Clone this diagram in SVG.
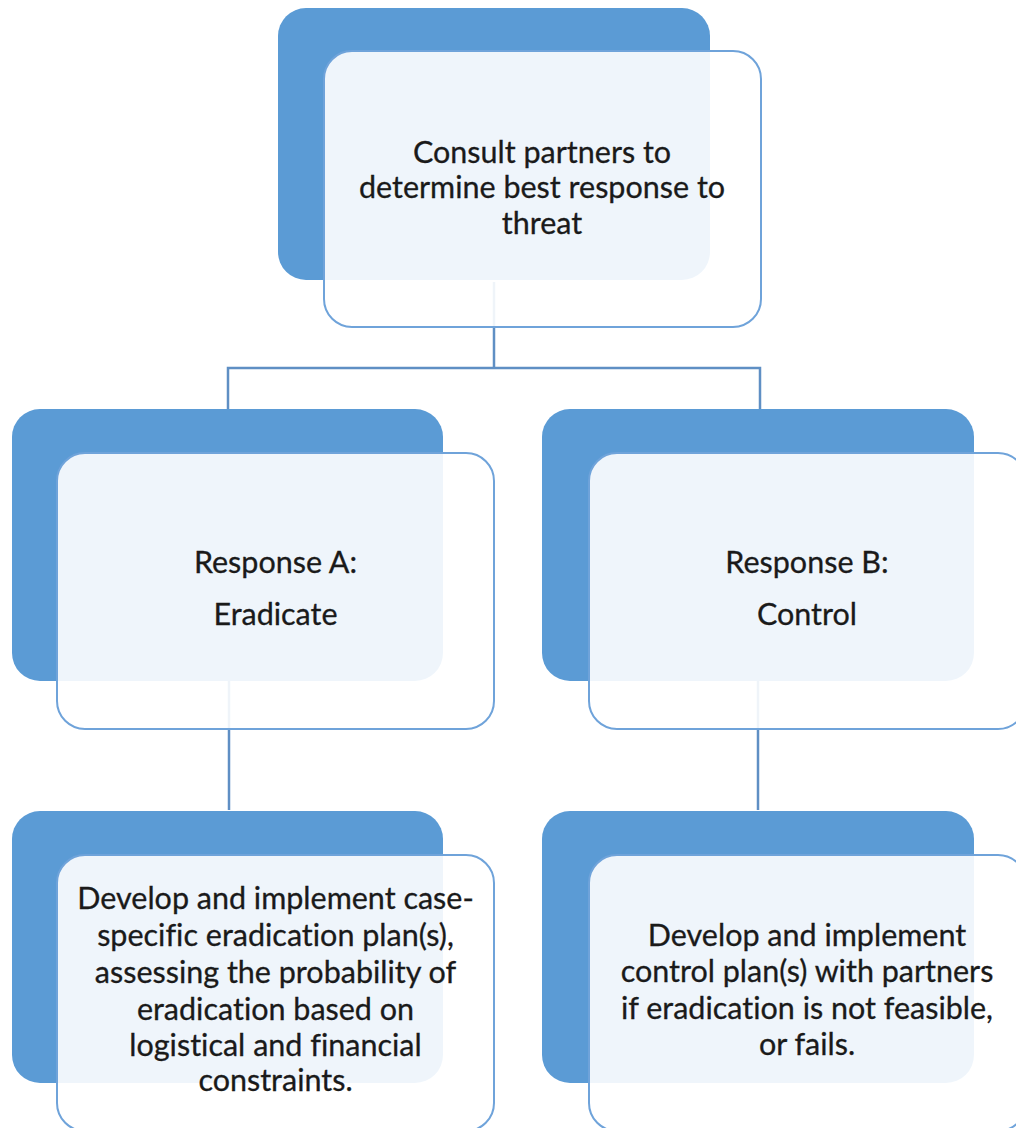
<svg xmlns="http://www.w3.org/2000/svg" width="1016" height="1128" viewBox="0 0 1016 1128">
<style>
.back{fill:#5B9BD5;}
.front{fill:#FFFFFF;fill-opacity:0.9;stroke:#6FA3DA;stroke-width:2;}
.conn{fill:none;stroke:#5F8FC4;stroke-width:2.5;}
text{font-family:Lato,"Open Sans","Liberation Sans",sans-serif;font-size:30.5px;fill:#1A1A1A;text-anchor:middle;font-variant-ligatures:none;stroke:#1A1A1A;stroke-width:0.3;}
</style>
<rect width="1016" height="1128" fill="#FFFFFF"/>
<g id="connectors">
<path class="conn" d="M494,282 V368 M228,409 V368 H760 V409"/>
<path class="conn" d="M229,681 V810"/>
<path class="conn" d="M758,681 V810"/>
</g>
<g id="node-consult">
<rect class="back" x="278" y="8" width="432" height="272" rx="28"/>
<rect class="front" x="324" y="51" width="437" height="276" rx="28"/>
<text x="542" y="163">Consult partners to</text>
<text x="542" y="198">determine best response to</text>
<text x="542" y="234">threat</text>
</g>
<g id="node-response-a">
<rect class="back" x="12" y="409" width="431" height="272" rx="28"/>
<rect class="front" x="57" y="453" width="437" height="276" rx="28"/>
<text x="275.5" y="573">Response A:</text>
<text x="275.5" y="625">Eradicate</text>
</g>
<g id="node-response-b">
<rect class="back" x="542" y="409" width="432" height="272" rx="28"/>
<rect class="front" x="589" y="453" width="437" height="276" rx="28"/>
<text x="807" y="573">Response B:</text>
<text x="807" y="625">Control</text>
</g>
<g id="node-eradicate-plan">
<rect class="back" x="12" y="811" width="431" height="272" rx="28"/>
<rect class="front" x="57" y="855" width="437" height="276" rx="28"/>
<text x="275.5" y="909">Develop and implement case-</text>
<text x="275.5" y="946">specific eradication plan(s),</text>
<text x="275.5" y="983">assessing the probability of</text>
<text x="275.5" y="1020">eradication based on</text>
<text x="275.5" y="1056">logistical and financial</text>
<text x="275.5" y="1091">constraints.</text>
</g>
<g id="node-control-plan">
<rect class="back" x="542" y="811" width="432" height="272" rx="28"/>
<rect class="front" x="589" y="855" width="437" height="276" rx="28"/>
<text x="807" y="946">Develop and implement</text>
<text x="807" y="982">control plan(s) with partners</text>
<text x="807" y="1019">if eradication is not feasible,</text>
<text x="807" y="1055">or fails.</text>
</g>
</svg>
